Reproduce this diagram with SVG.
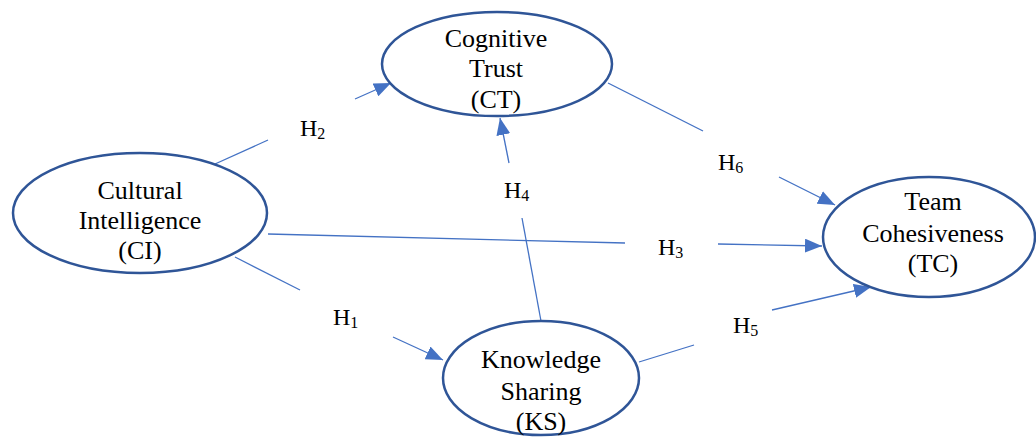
<svg xmlns="http://www.w3.org/2000/svg" width="1036" height="437" viewBox="0 0 1036 437">
<style>
.node{fill:#fff;stroke:#2F5597;stroke-width:2.5}
.lbl{font-family:"Liberation Serif","Times New Roman",serif;font-size:26px;fill:#000;text-anchor:middle}
.h{font-family:"Liberation Serif","Times New Roman",serif;font-size:24px;fill:#000}
.c{stroke:#4472C4;stroke-width:1.3;fill:none}
</style>
<defs>
<marker id="ah" markerUnits="userSpaceOnUse" markerWidth="18" markerHeight="14" refX="17" refY="7" orient="auto">
<path d="M0,0 L17,7 L0,14 Z" fill="#4472C4"/>
</marker>
</defs>
<rect width="1036" height="437" fill="#fff"/>
<g id="connectors">
<line class="c" x1="215" y1="164" x2="268" y2="140"/>
<line class="c" x1="355" y1="99" x2="391" y2="83" marker-end="url(#ah)"/>
<line class="c" x1="608" y1="83" x2="703" y2="131"/>
<line class="c" x1="779" y1="177" x2="835" y2="205" marker-end="url(#ah)"/>
<line class="c" x1="541" y1="321" x2="522" y2="218"/>
<line class="c" x1="509" y1="163" x2="500" y2="118" marker-end="url(#ah)"/>
<line class="c" x1="268" y1="234" x2="625" y2="243"/>
<line class="c" x1="718" y1="244" x2="822" y2="246" marker-end="url(#ah)"/>
<line class="c" x1="235" y1="257" x2="300" y2="290"/>
<line class="c" x1="393" y1="337" x2="443" y2="360" marker-end="url(#ah)"/>
<line class="c" x1="639" y1="362" x2="694" y2="345"/>
<line class="c" x1="772" y1="310" x2="871" y2="287" marker-end="url(#ah)"/>
</g>
<g id="labels">
<text class="h" x="300" y="136">H<tspan font-size="16" dy="3">2</tspan></text>
<text class="h" x="718" y="170">H<tspan font-size="16" dy="3">6</tspan></text>
<text class="h" x="504" y="198">H<tspan font-size="16" dy="3">4</tspan></text>
<text class="h" x="658" y="255">H<tspan font-size="16" dy="3">3</tspan></text>
<text class="h" x="333" y="325">H<tspan font-size="16" dy="3">1</tspan></text>
<text class="h" x="733" y="333">H<tspan font-size="16" dy="3">5</tspan></text>
</g>
<g id="CT">
<ellipse class="node" cx="497" cy="64" rx="115" ry="52"/>
<text class="lbl" x="496" y="47">Cognitive</text>
<text class="lbl" x="496" y="77">Trust</text>
<text class="lbl" x="496" y="108">(CT)</text>
</g>
<g id="CI">
<ellipse class="node" cx="140" cy="213" rx="127" ry="60"/>
<text class="lbl" x="140" y="199">Cultural</text>
<text class="lbl" x="140" y="229">Intelligence</text>
<text class="lbl" x="140" y="259">(CI)</text>
</g>
<g id="TC">
<ellipse class="node" cx="929" cy="237" rx="106" ry="60"/>
<text class="lbl" x="933" y="210">Team</text>
<text class="lbl" x="933" y="242">Cohesiveness</text>
<text class="lbl" x="933" y="272">(TC)</text>
</g>
<g id="KS">
<ellipse class="node" cx="541" cy="378" rx="98" ry="57"/>
<text class="lbl" x="541" y="368">Knowledge</text>
<text class="lbl" x="541" y="400">Sharing</text>
<text class="lbl" x="541" y="430">(KS)</text>
</g>
</svg>
